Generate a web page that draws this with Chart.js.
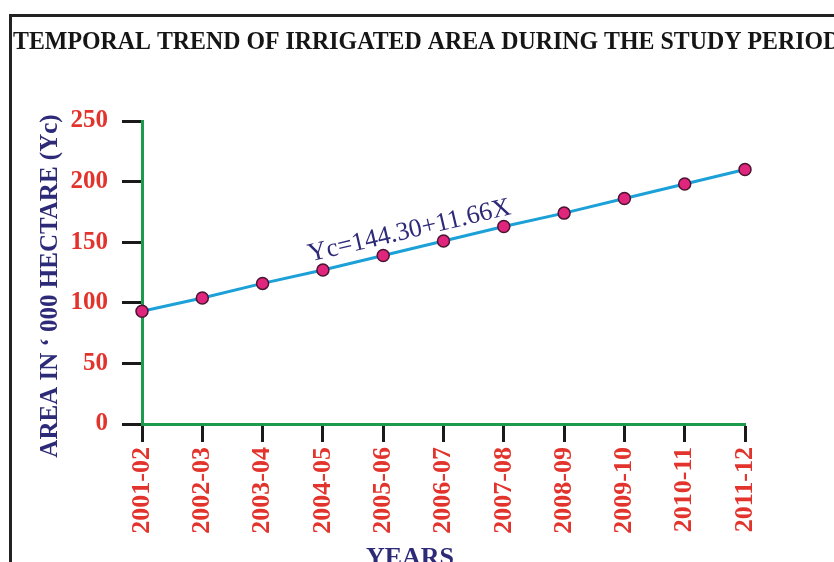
<!DOCTYPE html>
<html>
<head>
<meta charset="utf-8">
<script src="https://cdn.jsdelivr.net/npm/chart.js@4.4.1/dist/chart.umd.min.js"></script>
<style>
    html, body { margin: 0; padding: 0; background: #fff; overflow: hidden; }
    .frame {
        position: absolute; left: 9px; top: 14px;
        width: 900px; height: 620px;
        border-left: 3px solid #222; border-top: 3px solid #222;
    }
    .wrap { position: absolute; left: 0; top: 0; width: 834px; height: 562px; }
</style>
</head>
<body>
<div class="frame"></div>
<div class="wrap"><canvas id="irrigatedTrend" width="834" height="562"></canvas></div>
<script>
const chartTitle = 'TEMPORAL TREND OF IRRIGATED AREA DURING THE STUDY PERIOD';
const years = ['2001-02', '2002-03', '2003-04', '2004-05', '2005-06', '2006-07', '2007-08', '2008-09', '2009-10', '2010-11', '2011-12'];
const areaValues = [93, 104, 116, 127, 139, 151, 163, 174, 186, 198, 210];
const yMin = 0;
const yMax = 250;
const yStep = 50;
const yTitle = 'AREA IN \u2018 000 HECTARE (Yc)';
const xTitle = 'YEARS';
const equationLabel = 'Yc=144.30+11.66X';

const serif = '"Liberation Serif", "Times New Roman", serif';
const red = '#e2332c';
const navy = '#2d2a78';
const green = '#1c9b4c';

// titles and the equation are drawn straight on the canvas
const textPlugin = {
    id: 'textPlugin',
    afterDraw(chart) {
        const ctx = chart.ctx;
        const xs = chart.scales.x;
        const ys = chart.scales.y;

        // main title, a bit condensed so the last letter runs off the edge
        ctx.save();
        ctx.fillStyle = '#151515';
        ctx.font = 'bold 26px ' + serif;
        ctx.textBaseline = 'alphabetic';
        const w = ctx.measureText(chartTitle.slice(0, -1)).width;
        ctx.translate(13, 49);
        ctx.scale((823 - 13) / w, 1);
        ctx.fillText(chartTitle, 0, 0);
        ctx.restore();

        // y title
        ctx.save();
        ctx.fillStyle = navy;
        ctx.font = 'bold 25px ' + serif;
        ctx.textAlign = 'center';
        ctx.textBaseline = 'middle';
        ctx.translate(51, 286);
        ctx.rotate(-Math.PI / 2);
        ctx.fillText(yTitle, 0, 0);
        ctx.restore();

        // equation follows the trend line
        ctx.save();
        const x0 = xs.getPixelForValue(0), y0 = ys.getPixelForValue(areaValues[0]);
        const n = areaValues.length - 1;
        const x1 = xs.getPixelForValue(n), y1 = ys.getPixelForValue(areaValues[n]);
        const angle = Math.atan2(y1 - y0, x1 - x0);
        const cx = xs.getPixelForValue(4.5);
        const cy = y0 + (cx - x0) * (y1 - y0) / (x1 - x0);
        ctx.translate(cx, cy);
        ctx.rotate(angle);
        ctx.fillStyle = navy;
        ctx.font = '26px ' + serif;
        ctx.textAlign = 'center';
        ctx.fillText(equationLabel, 0, -10);
        ctx.restore();

        // x title
        ctx.save();
        ctx.fillStyle = navy;
        ctx.font = 'bold 26px ' + serif;
        ctx.textAlign = 'center';
        ctx.textBaseline = 'alphabetic';
        ctx.fillText(xTitle, 410, 565);
        ctx.restore();
    }
};

var ctx = document.getElementById('irrigatedTrend');
var myChart = new Chart(ctx, {
    type: 'line',
    plugins: [textPlugin],
    data: {
        labels: years,
        datasets: [{
            label: 'Area',
            data: areaValues,
            borderColor: '#1ba0d8',
            borderWidth: 3,
            tension: 0,
            pointRadius: 6,
            pointBackgroundColor: '#e0257d',
            pointBorderColor: '#4a1431',
            pointBorderWidth: 1.5,
            clip: false,
        }]
    },
    options: {
        responsive: false,
        animation: false,
        layout: {
            padding: { left: 38, top: 121, right: 89, bottom: 0 }
        },
        plugins: {
            legend: { display: false },
            tooltip: { enabled: false },
        },
        scales: {
            x: {
                offset: false,
                border: { color: green, width: 3 },
                grid: {
                    drawOnChartArea: false,
                    drawTicks: true,
                    tickLength: 18,
                    tickWidth: 3,
                    tickColor: '#1a1a1a',
                },
                ticks: {
                    color: red,
                    font: { family: serif, size: 26, weight: 'bold' },
                    minRotation: 90,
                    maxRotation: 90,
                    padding: 5,
                    autoSkip: false,
                },
                afterFit: function (scale) {
                    scale.height = 138;
                },
            },
            y: {
                min: yMin,
                max: yMax,
                border: { color: green, width: 3 },
                grid: {
                    drawOnChartArea: false,
                    drawTicks: true,
                    tickLength: 20,
                    tickWidth: 3,
                    tickColor: '#1a1a1a',
                },
                ticks: {
                    stepSize: yStep,
                    color: red,
                    font: { family: serif, size: 25, weight: 'bold' },
                    padding: 14,
                },
                afterFit: function (scale) {
                    scale.width = 104;
                },
            },
        },
    },
});
</script>
</body>
</html>
